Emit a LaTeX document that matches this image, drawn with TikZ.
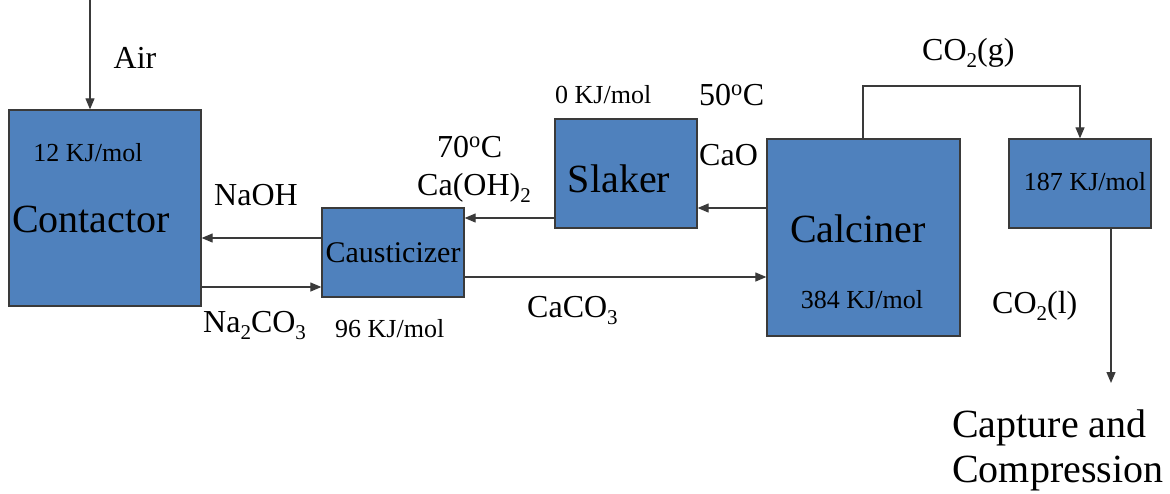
\documentclass[tikz,border=0pt]{standalone}
\usepackage{fontspec}
\setmainfont{Liberation Serif}
\usetikzlibrary{arrows.meta}
\definecolor{boxblue}{HTML}{4F81BD}
\definecolor{edge}{HTML}{3A3A3A}
\newcommand\mysub[1]{\raisebox{-7pt}{\fontsize{21}{21}\selectfont #1}}
\begin{document}
\begin{tikzpicture}[x=1pt,y=-1pt,
  box/.style={draw=edge,line width=1.3pt,fill=boxblue,inner sep=0pt,rectangle},
  arr/.style={draw=edge,line width=1.2pt,-{Triangle[length=11pt,width=9pt]}},
  big/.style={font=\fontsize{40}{44}\selectfont,inner sep=0pt},
  mid/.style={font=\fontsize{32}{36}\selectfont,inner sep=0pt},
  sml/.style={font=\fontsize{26}{30}\selectfont,inner sep=0pt}]
\useasboundingbox (0,0) rectangle (1170,493);
% boxes
\node[box,minimum width=192pt,minimum height=196pt] (con) at (105,208) {};
\node[box,minimum width=142pt,minimum height=89pt] (cau) at (393,252.5) {};
\node[box,minimum width=142pt,minimum height=109pt] (sla) at (626,173.5) {};
\node[box,minimum width=193pt,minimum height=197pt] (cal) at (863.5,237.5) {};
\node[box,minimum width=142pt,minimum height=89pt] (liq) at (1080,183.5) {};
% box texts
\node[sml,anchor=base] (t12) at (88,161) {12 KJ/mol};
\node[big,anchor=base] (tcon) at (91,232) {Contactor};
\node[sml,anchor=base,font=\fontsize{30}{34}\selectfont] (tcau) at (393,262) {Causticizer};
\node[big,anchor=base] (tsla) at (619,192) {Slaker};
\node[big,anchor=base] (tcal) at (858,242) {Calciner};
\node[sml,anchor=base] (t384) at (862,308) {384 KJ/mol};
\node[sml,anchor=base] (t187) at (1085,190) {187 KJ/mol};
% outside labels
\node[mid,anchor=base] (tair) at (135,68) {Air};
\node[mid,anchor=base] (tnaoh) at (256,205) {NaOH};
\node[mid,anchor=base west] (tna2) at (203,332) {Na\mysub{2}CO\mysub{3}};
\node[sml,anchor=base west] (t96) at (335,337) {96 KJ/mol};
\node[mid,anchor=base west] (t70) at (437,157) {70\textsuperscript{o}C};
\node[mid,anchor=base west] (tcaoh) at (417,195) {Ca(OH)\mysub{2}};
\node[sml,anchor=base west] (t0) at (555,103) {0 KJ/mol};
\node[mid,anchor=base west] (t50) at (699,105) {50\textsuperscript{o}C};
\node[mid,anchor=base west] (tcao) at (699,165) {CaO};
\node[mid,anchor=base west] (tcaco) at (527,317) {CaCO\mysub{3}};
\node[mid,anchor=base west] (tco2g) at (922,60) {CO\mysub{2}(g)};
\node[mid,anchor=base west] (tco2l) at (992,313) {CO\mysub{2}(l)};
\node[big,anchor=base west] (tcap1) at (952,437) {Capture and};
\node[big,anchor=base west] (tcap2) at (952,482) {Compression};
% connectors
\coordinate (airtop) at (90,0);
\draw[arr] (airtop) -- (con.north -| airtop);
\draw[arr] (cau.west |- 0,238) -- (con.east |- 0,238);
\draw[arr] (con.east |- 0,287) -- (cau.west |- 0,287);
\draw[arr] (sla.west |- 0,218) -- (cau.east |- 0,218);
\draw[arr] (cal.west |- 0,208) -- (sla.east |- 0,208);
\draw[arr] (cau.east |- 0,277) -- (cal.west |- 0,277);
\coordinate (gup) at (863,86);
\draw[arr] (cal.north -| gup) |- (liq.north |- gup) -- (liq.north);
\coordinate (capt) at (1111,383);
\draw[arr] (liq.south -| capt) -- (capt);
\end{tikzpicture}
\end{document}
